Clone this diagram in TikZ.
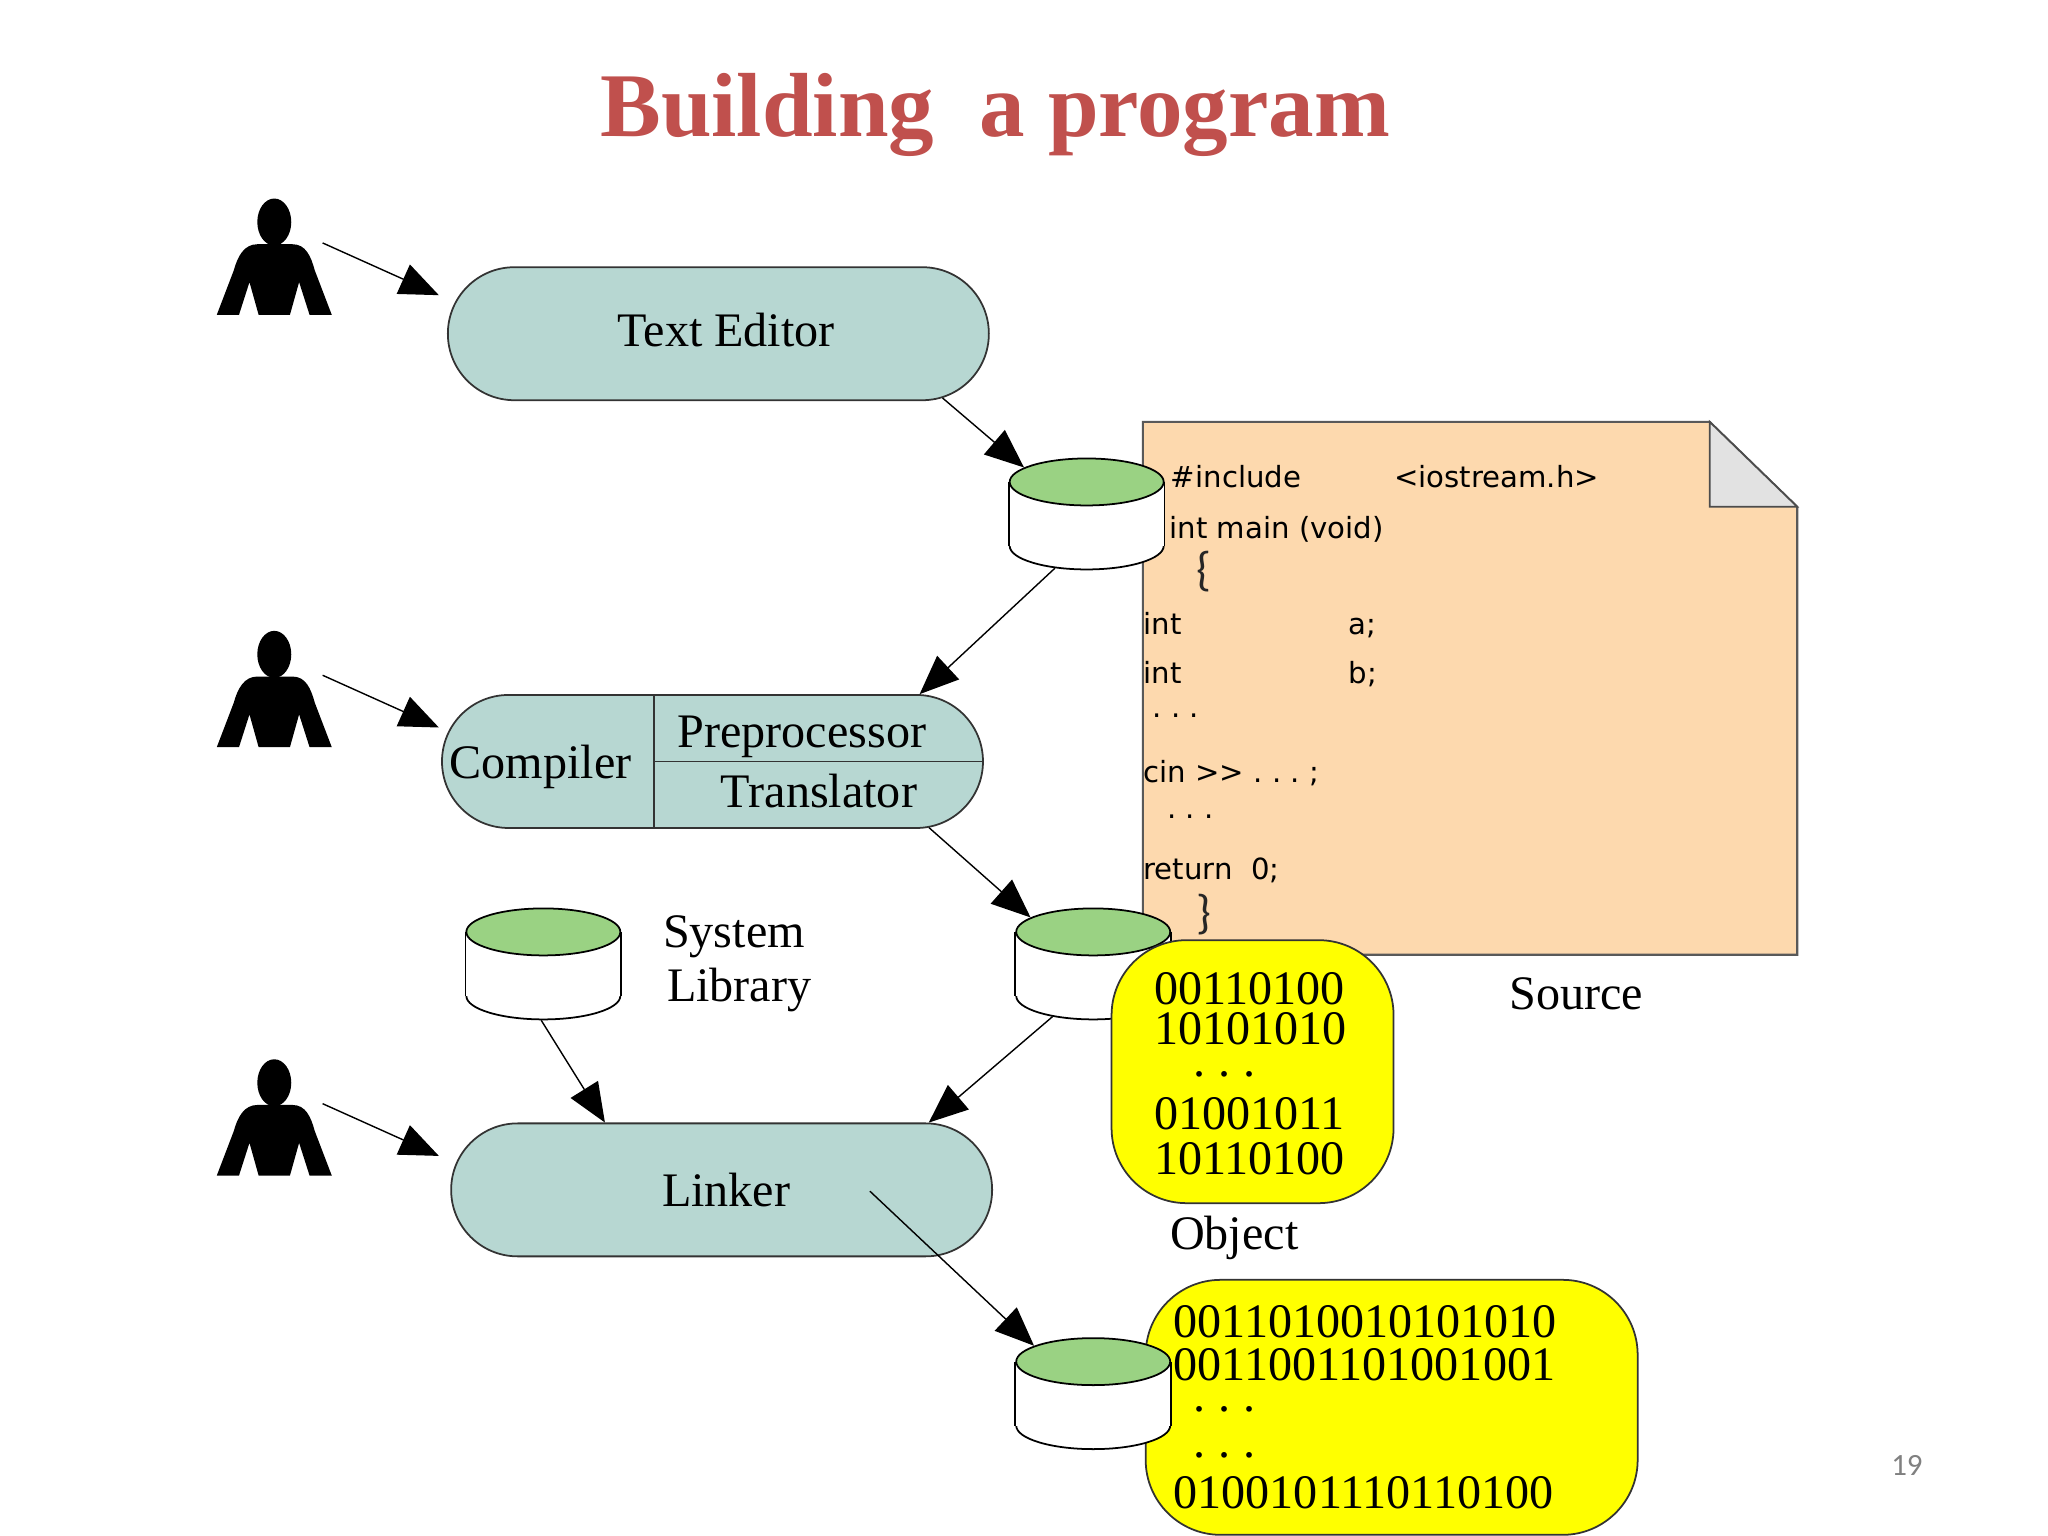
\documentclass[tikz,border=0pt]{standalone}
\usepackage{fontspec}
\setmainfont{Liberation Serif}
\newfontfamily\codefont{DejaVu Sans}
\newfontfamily\pagefont{Carlito}
\usetikzlibrary{shapes.geometric,shapes.misc,arrows.meta}
\definecolor{titleC}{HTML}{C0504D}
\definecolor{pillC}{HTML}{B7D7D2}
\definecolor{diskC}{HTML}{9AD283}
\definecolor{sheetC}{HTML}{FDD9AE}
\definecolor{foldC}{HTML}{E2E2E2}
\definecolor{blobC}{RGB}{255,255,0}
\newcommand{\bindots}{.\hskip.27em.\hskip.27em.}
\newcommand{\codedots}{.\ .\ .}
\newcommand{\diskAt}[3]{
  \begin{scope}[shift={(#2,#3)}]
    \node[diskend, fill=white] (#1-base) at (0,24.5) {};
    \fill[white] (#1-base.west) rectangle (59,-24.5);
    \node[diskend, fill=diskC] (#1) at (0,-24.5) {};
    \draw[black, line width=0.5pt] (#1-base.west) -- (#1.west);
    \draw[black, line width=0.5pt] (#1-base.east) -- (#1.east);
  \end{scope}
}
\tikzset{
  pill/.style   ={rounded rectangle, draw=black!80, fill=pillC, line width=0.5pt, minimum width=5.41cm, minimum height=1.33cm, inner sep=0pt},
  diskend/.style={ellipse, draw=black, line width=0.5pt, minimum width=1.54cm, minimum height=0.47cm, inner sep=0pt},
  blob/.style   ={draw=black!80, fill=blobC, line width=0.5pt, rounded corners=0.75cm, inner sep=0pt},
  conn/.style   ={draw=black, line width=0.4pt, -{Triangle[length=0.39cm,width=0.32cm]}},
  lab/.style    ={font=\fontsize{13.7}{16}\selectfont, inner sep=0pt},
  bits/.style   ={lab, anchor=base west},
  code/.style   ={font=\codefont\fontsize{8.3}{10}\selectfont, anchor=base west, inner sep=0pt},
  brace/.style  ={font=\pagefont\fontsize{13.5}{15}\selectfont, text=black!85, inner sep=0pt},
}
\begin{document}
\begin{tikzpicture}[x=0.01306cm,y=-0.01306cm]
  \useasboundingbox (0,0) rectangle (1568,1176);
  \node[font=\bfseries\fontsize{25.9}{30}\selectfont, text=titleC, inner sep=0pt] (title) at (762,88) {Building\ \ a program};
  % users
  \foreach \y/\n in {0/userA,331/userB,659/userC}{
    \begin{scope}[shift={(0,\y)}]
      \fill[black] (210,170) ellipse (13 and 18);
      \fill[black] (197,187) -- (224,187) .. controls (234,187) and (238,196) .. (241,207)
        -- (254,241) -- (237,241) -- (229,216) -- (222,241) -- (198,241) -- (191,216)
        -- (183,241) -- (166,241) -- (179,207) .. controls (182,196) and (187,187) .. (197,187) -- cycle;
      \coordinate (\n) at (247,186);
      \coordinate (\n-in) at (336,226);
    \end{scope}
  }
  % tools
  \node[pill] (editor) at (550,255.5) {};
  \node[lab] (editorL) at (556,253) {Text Editor};
  \node[pill] (compiler) at (545.5,583) {};
  \draw[black!80, line width=0.5pt] (501,532) -- (501,634);
  \draw[black!80, line width=0.5pt] (501,583) -- (compiler.east);
  \node[lab] (compilerL) at (414,587) {Compiler};
  \node[lab] (prep) at (614,564) {Preprocessor};
  \node[lab] (trans) at (627,606) {Translator};
  \node[pill] (linker) at (552.5,911) {};
  \node[lab] (linkerL) at (556,911) {Linker};
  % source sheet
  \filldraw[fill=sheetC, draw=black!65, line width=0.6pt] (875,323) -- (1309,323) -- (1376,388) -- (1376,731) -- (875,731) -- cycle;
  \filldraw[fill=foldC, draw=black!70, line width=0.5pt] (1309,323) -- (1376,388) -- (1309,388) -- cycle;
  \node[code] (incl) at (896,373) {\#include};
  \node[code] (iostr) at (1067,373) {<iostream.h>};
  \node[code] (mainL) at (895,412) {int main (void)};
  \node[brace] (brOpen) at (922,438) {\{};
  \node[code] (intA) at (875,486) {int};
  \node[code] (varA) at (1032,486) {a;};
  \node[code] (intB) at (875,523) {int};
  \node[code] (varB) at (1032,523) {b;};
  \node[code] (dotsA) at (882,549) {\codedots};
  \node[code] (cinL) at (875,599) {cin >>\ \codedots\ ;};
  \node[code] (dotsB) at (893,627) {\codedots};
  \node[code] (retL) at (875,673) {return\ \ 0;};
  \node[brace] (brClose) at (922,700) {\}};
  \node[lab] (source) at (1207,761) {Source};
  % disks and binaries
  \diskAt{diskA}{832}{393.5}
  \diskAt{diskB}{837}{738}
  \diskAt{diskL}{416}{738}
  \node[lab] (sysL) at (562,717) {System};
  \node[lab] (libL) at (566,758) {Library};
  \node[blob, minimum width=2.82cm, minimum height=2.63cm] (object) at (959,820.5) {};
  \node[bits] (objA) at (883,769) {00110100};
  \node[bits] (objB) at (883,800) {10101010};
  \node[bits] (objC) at (913,824) {\bindots};
  \node[bits] (objD) at (883,865) {01001011};
  \node[bits] (objE) at (883,899) {10110100};
  \node[lab] (objectL) at (945,948) {Object};
  \node[blob, minimum width=4.92cm, minimum height=2.55cm] (program) at (1065.5,1077.5) {};
  \diskAt{diskC}{837}{1067}
  \node[bits] (exeA) at (898,1024) {0011010010101010};
  \node[bits] (exeB) at (898,1057) {0011001101001001};
  \node[bits] (exeC) at (913,1081) {\bindots};
  \node[bits] (exeD) at (913,1116) {\bindots};
  \node[bits] (exeE) at (898,1155) {0100101110110100};
  \node[font=\pagefont\fontsize{8.8}{10}\selectfont, text=black!50, inner sep=0pt] (pageno) at (1460,1122) {19};
  % connectors
  \coordinate (linkerOut) at (666,912);
  \draw[conn] (userA) -- (userA-in);
  \draw[conn] (userB) -- (userB-in);
  \draw[conn] (userC) -- (userC-in);
  \draw[conn] (editor.-16.4) -- (diskA.167);
  \draw[conn] (diskA-base.-145) -- (compiler.18.3);
  \draw[conn] (compiler.-17) -- (diskB.167);
  \draw[conn] (diskB-base.-153) -- (linker.18);
  \draw[conn] (diskL-base.-95) -- (linker.150);
  \draw[conn] (linkerOut) -- (diskC.165);
\end{tikzpicture}
\end{document}
